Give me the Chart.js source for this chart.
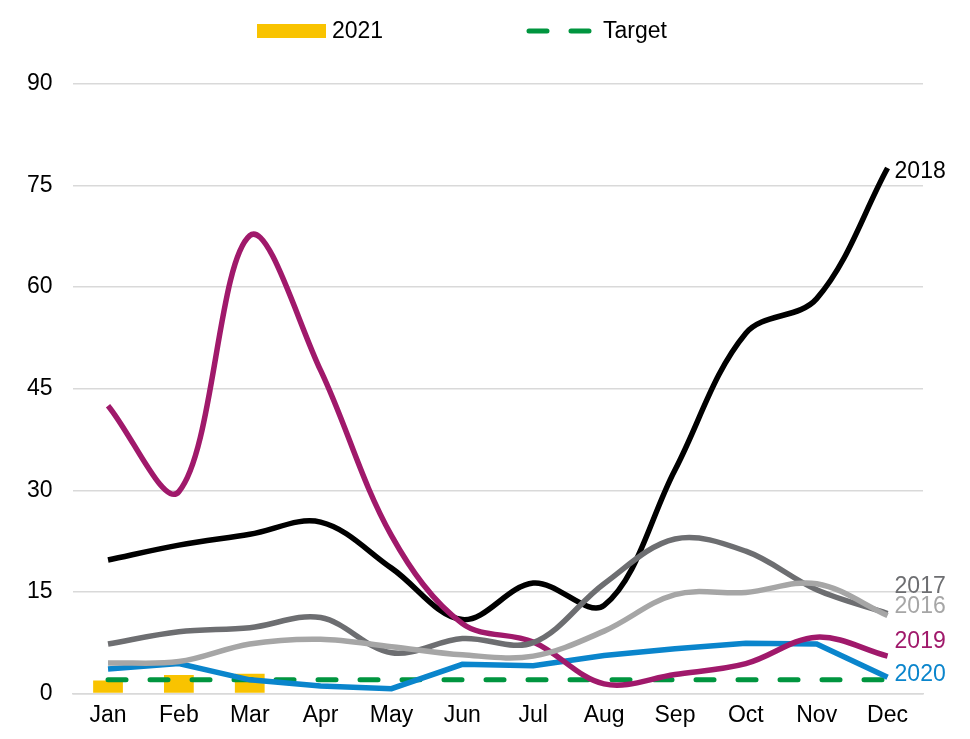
<!DOCTYPE html>
<html>
<head>
<meta charset="utf-8">
<script src="https://cdn.jsdelivr.net/npm/chart.js@4/dist/chart.umd.min.js"></script>
<style>
  html, body { margin: 0; padding: 0; background: #fff; }
  #wrap { width: 970px; height: 739px; }
</style>
</head>
<body>
<div id="wrap"><canvas id="chart" width="970" height="739"></canvas></div>
<script>
const months = ['Jan', 'Feb', 'Mar', 'Apr', 'May', 'Jun', 'Jul', 'Aug', 'Sep', 'Oct', 'Nov', 'Dec'];
const yTicks = [0, 15, 30, 45, 60, 75, 90];

const values2021 = [1.9, 2.7, 2.9, null, null, null, null, null, null, null, null, null];
const values2016 = [4.5, 4.7, 7.3, 8.0, 6.9, 5.7, 5.5, 9.2, 14.6, 14.9, 16.2, 11.5];
const values2017 = [7.3, 9.1, 9.7, 11.2, 6.0, 8.1, 7.5, 16.2, 22.8, 21.0, 15.3, 11.8];
const values2018 = [19.7, 21.9, 23.5, 25.3, 18.5, 10.9, 16.3, 13.0, 33.0, 53.2, 58.3, 77.6];
const values2019 = [42.5, 29.8, 67.6, 47.7, 23.3, 10.3, 7.6, 1.4, 2.8, 4.4, 8.3, 5.5];
const values2020 = [3.6, 4.4, 2.0, 1.1, 0.7, 4.3, 4.1, 5.6, 6.6, 7.4, 7.3, 2.4];
const targetValues = [2, 2, 2, 2, 2, 2, 2, 2, 2, 2, 2, 2];

const FONT = 'Arial, "Liberation Sans", sans-serif';
const FONT_SIZE = 23;

// labels at the end of each year line
const endLabels = {
    id: 'endLabels',
    afterDatasetsDraw(chart) {
        const ctx = chart.ctx;
        ctx.save();
        ctx.font = `${FONT_SIZE}px ${FONT}`;
        ctx.textBaseline = 'middle';
        ctx.textAlign = 'left';
        chart.data.datasets.forEach((ds, i) => {
            if (!ds.endLabel) return;
            const meta = chart.getDatasetMeta(i);
            const pt = meta.data[meta.data.length - 1];
            ctx.fillStyle = ds.borderColor;
            ctx.fillText(ds.label, pt.x + 7, pt.y + ds.endLabelDy);
        });
        ctx.restore();
    }
};

// legend row: only 2021 and Target are shown
const legendRow = {
    id: 'legendRow',
    afterDraw(chart) {
        const ctx = chart.ctx;
        const bar = chart.data.datasets.find(d => d.label === '2021');
        const target = chart.data.datasets.find(d => d.label === 'Target');
        const cy = 31;
        ctx.save();
        ctx.font = `${FONT_SIZE}px ${FONT}`;
        ctx.textBaseline = 'middle';

        ctx.fillStyle = bar.backgroundColor;
        ctx.fillRect(257, cy - 7, 69, 14);
        ctx.fillStyle = '#000';
        ctx.fillText(bar.label, 332, cy + 1);

        ctx.strokeStyle = target.borderColor;
        ctx.lineWidth = target.borderWidth;
        ctx.lineCap = 'round';
        ctx.setLineDash(target.borderDash);
        ctx.beginPath();
        ctx.moveTo(529, cy);
        ctx.lineTo(592, cy);
        ctx.stroke();
        ctx.setLineDash([]);
        ctx.fillText(target.label, 603, cy + 1);
        ctx.restore();
    }
};

const lineSet = (label, data, color, dy, tension = 0.35) => ({
    type: 'line',
    label,
    data,
    borderColor: color,
    backgroundColor: color,
    borderWidth: 5.5,
    tension,
    pointRadius: 0,
    fill: false,
    endLabel: true,
    endLabelDy: dy
});

new Chart(document.getElementById('chart'), {
    data: {
        labels: months,
        datasets: [
            {
                type: 'bar',
                label: '2021',
                data: values2021,
                backgroundColor: '#F9C300',
                borderWidth: 0,
                categoryPercentage: 0.42,
                barPercentage: 1,
                order: 10
            },
            lineSet('2016', values2016, '#A6A6A6', -9),
            lineSet('2017', values2017, '#6D6E71', -27),
            lineSet('2019', values2019, '#A0196B', -15),
            lineSet('2018', values2018, '#000000', 4),
            lineSet('2020', values2020, '#0A85CC', -2, 0),
            {
                type: 'line',
                label: 'Target',
                data: targetValues,
                borderColor: '#00953F',
                backgroundColor: '#00953F',
                borderWidth: 5,
                borderDash: [18, 24],
                borderCapStyle: 'round',
                pointRadius: 0,
                fill: false
            }
        ]
    },
    options: {
        responsive: false,
        animation: false,
        layout: { padding: { top: 84, right: 47, bottom: 10, left: 7 } },
        plugins: {
            legend: { display: false },
            tooltip: { enabled: false }
        },
        scales: {
            x: {
                offset: true,
                grid: { display: false },
                border: { display: true, color: '#D9D9D9', width: 1.5 },
                ticks: { color: '#000', font: { size: FONT_SIZE, family: FONT }, padding: 0 }
            },
            y: {
                min: 0,
                max: 90,
                afterBuildTicks: (axis) => { axis.ticks = yTicks.map(v => ({ value: v })); },
                grid: { color: '#D9D9D9', lineWidth: 1.5, drawTicks: false },
                border: { display: false },
                ticks: { color: '#000', font: { size: FONT_SIZE, family: FONT }, padding: 20 }
            }
        }
    },
    plugins: [endLabels, legendRow]
});
</script>
</body>
</html>
